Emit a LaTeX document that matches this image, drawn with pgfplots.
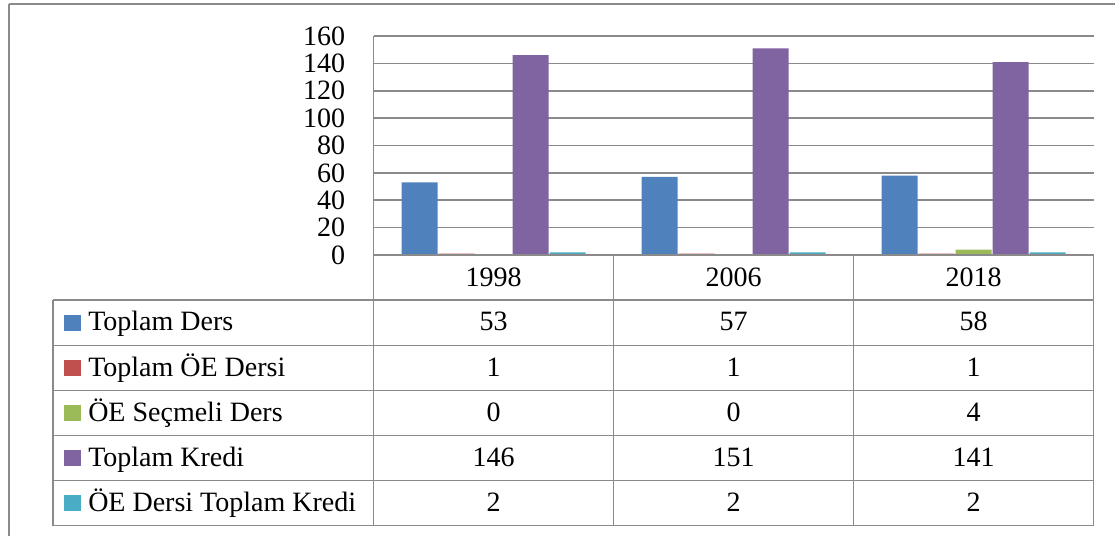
\documentclass[border=0pt]{standalone}
\usepackage{fontspec}
\setmainfont{Liberation Serif}
\usepackage{pgfplots}
\pgfplotsset{compat=1.18}
\definecolor{cA}{HTML}{4F81BD}
\definecolor{cB}{HTML}{C0504D}
\definecolor{cC}{HTML}{9BBB59}
\definecolor{cD}{HTML}{8064A2}
\definecolor{cE}{HTML}{4BACC6}
\definecolor{gridc}{HTML}{8A8A8A}
\newcommand{\tf}{\fontsize{21}{21}\selectfont}
\begin{document}
\begin{tikzpicture}
\useasboundingbox (0pt,0pt) rectangle (836.25pt,-402pt);
\begin{axis}[
  at={(280.125pt,-191.25pt)}, anchor=south west,
  scale only axis, width=540pt, height=164.25pt,
  xmin=-0.5, xmax=2.5, ymin=0, ymax=160,
  ybar=0.75pt, bar width=27pt,
  ytick={0,20,...,160}, xtick=\empty,
  ymajorgrids, grid style={gridc, line width=1.2pt},
  axis line style={draw=none}, major tick length=0pt,
  tick label style={font=\tf},
  yticklabel style={inner sep=0pt, xshift=-21pt},
  /pgf/number format/assume math mode=true,
]
\addplot[fill=cA, draw=none] coordinates {(0,53) (1,57) (2,58)};
\addplot[fill=cB, draw=none] coordinates {(0,1) (1,1) (2,1)};
\addplot[fill=cC, draw=none] coordinates {(0,0) (1,0) (2,4)};
\addplot[fill=cD, draw=none] coordinates {(0,146) (1,151) (2,141)};
\addplot[fill=cE, draw=none] coordinates {(0,2) (1,2) (2,2)};
\end{axis}
\begin{scope}[x=0.75pt,y=-0.75pt, every node/.style={font=\tf, inner sep=0pt}]
\draw[gridc, line width=1.2pt] (9,4) -- (1200,4);
\draw[gridc, line width=1.2pt] (9,4) -- (9,600);
\draw[gridc, line width=1.2pt] (373.5,36) -- (373.5,525.5);
\draw[gridc, line width=1.2pt] (373.5,255) -- (1093.5,255);
\foreach \yy in {300,345.5,390.5,435.5,480.5,525.5}
  \draw[gridc, line width=1.2pt] (53,\yy) -- (1093.5,\yy);
\draw[gridc, line width=1.2pt] (53,300) -- (53,525.5);
\foreach \xx in {613.5,853.5,1093.5}
  \draw[gridc, line width=1.2pt] (\xx,255) -- (\xx,525.5);
\node[anchor=base] at (493.5,286.5) {1998};
\node[anchor=base] at (733.5,286.5) {2006};
\node[anchor=base] at (973.5,286.5) {2018};
\foreach \yc/\col/\lab/\va/\vb/\vc in {
  322.75/cA/Toplam Ders/53/57/58,
  368/cB/Toplam ÖE Dersi/1/1/1,
  413/cC/ÖE Seçmeli Ders/0/0/4,
  458/cD/Toplam Kredi/146/151/141,
  503/cE/ÖE Dersi Toplam Kredi/2/2/2}{
  \fill[\col] (64,\yc-8) rectangle (80.7,\yc+8);
  \node[anchor=base west] at (88,\yc+8) {\lab};
  \node[anchor=base] at (493.5,\yc+8) {\va};
  \node[anchor=base] at (733.5,\yc+8) {\vb};
  \node[anchor=base] at (973.5,\yc+8) {\vc};
}
\end{scope}
\end{tikzpicture}
\end{document}
